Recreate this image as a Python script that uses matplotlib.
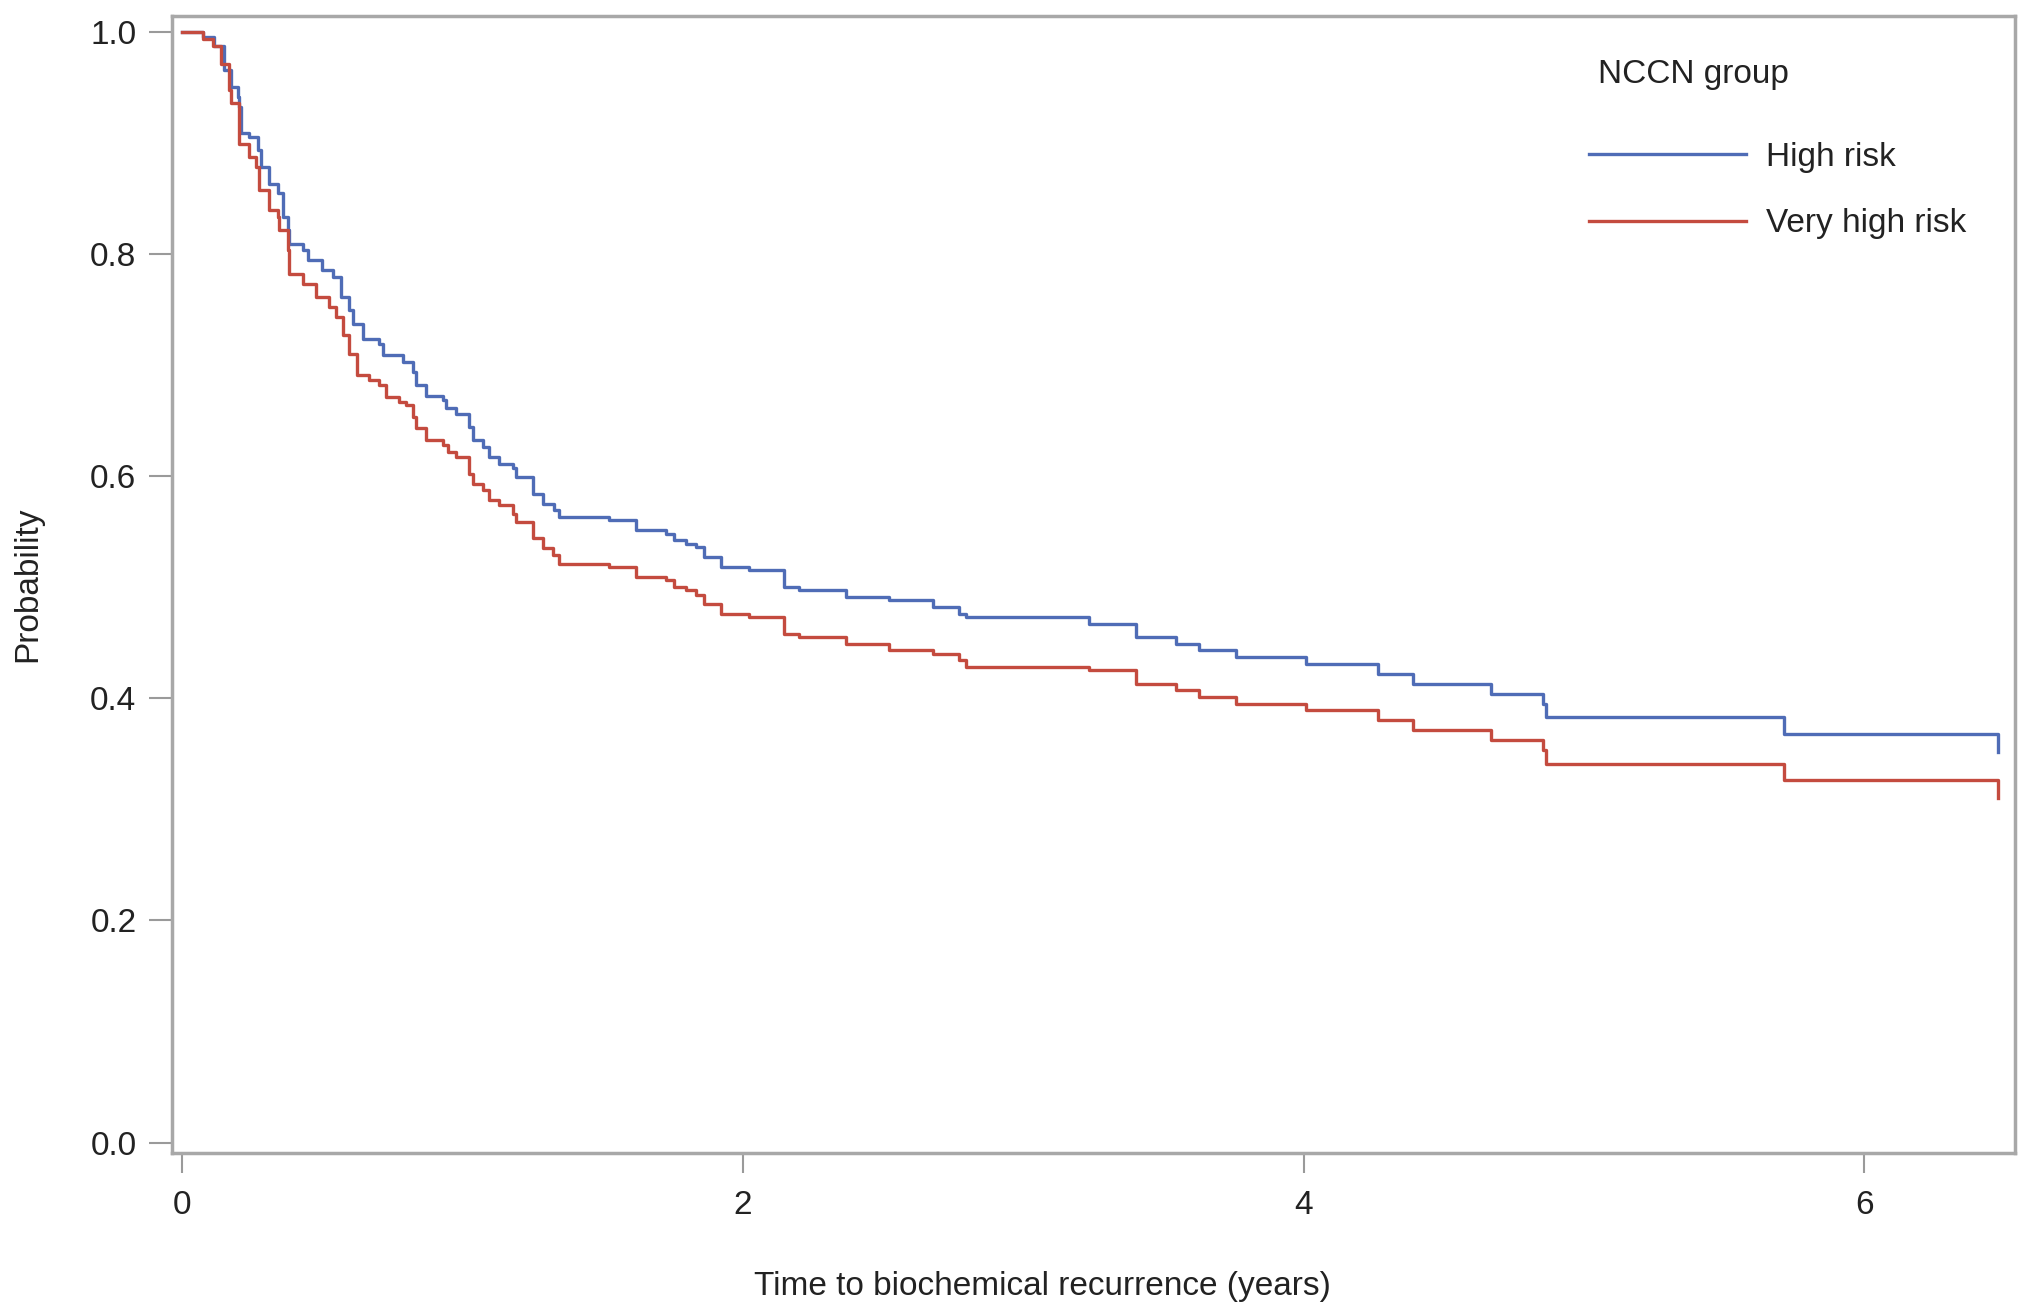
import matplotlib.pyplot as plt
import numpy as np

plt.rcParams['font.family'] = ['Liberation Sans', 'DejaVu Sans']

# Kaplan-Meier step points (time in years, survival after the step)
high_t = [0, 0.073, 0.114, 0.15, 0.174, 0.197, 0.203, 0.209, 0.239, 0.269, 0.281, 0.31, 0.34,
          0.358, 0.376, 0.382, 0.429, 0.447, 0.5, 0.536, 0.566, 0.596, 0.608, 0.643, 0.703,
          0.715, 0.786, 0.822, 0.834, 0.869, 0.929, 0.941, 0.976, 1.024, 1.036, 1.071, 1.095,
          1.131, 1.178, 1.19, 1.25, 1.286, 1.327, 1.345, 1.523, 1.619, 1.726, 1.755, 1.797,
          1.833, 1.862, 1.922, 2.023, 2.148, 2.201, 2.368, 2.522, 2.677, 2.772, 2.796, 3.236,
          3.402, 3.545, 3.628, 3.759, 4.009, 4.264, 4.389, 4.669, 4.853, 4.865, 5.713, 6.476]
high_p = [1.0, 0.995, 0.987, 0.965, 0.95, 0.941, 0.932, 0.909, 0.905, 0.893, 0.878, 0.863, 0.855,
          0.833, 0.821, 0.809, 0.803, 0.794, 0.785, 0.779, 0.761, 0.749, 0.737, 0.723, 0.719,
          0.709, 0.703, 0.694, 0.682, 0.672, 0.668, 0.661, 0.656, 0.644, 0.632, 0.626, 0.617,
          0.611, 0.607, 0.599, 0.584, 0.575, 0.569, 0.563, 0.56, 0.551, 0.548, 0.542, 0.539,
          0.536, 0.527, 0.518, 0.515, 0.5, 0.497, 0.491, 0.488, 0.482, 0.476, 0.473, 0.467,
          0.455, 0.449, 0.443, 0.437, 0.431, 0.422, 0.413, 0.404, 0.395, 0.383, 0.368, 0.352]

vhigh_t = [0, 0.073, 0.11, 0.138, 0.168, 0.174, 0.203, 0.239, 0.263, 0.275, 0.31, 0.34, 0.346,
           0.376, 0.382, 0.429, 0.477, 0.524, 0.548, 0.572, 0.596, 0.625, 0.667, 0.703, 0.727,
           0.774, 0.798, 0.822, 0.834, 0.869, 0.929, 0.947, 0.976, 1.024, 1.036, 1.071, 1.095,
           1.131, 1.178, 1.19, 1.25, 1.286, 1.321, 1.345, 1.523, 1.619, 1.726, 1.755, 1.797,
           1.833, 1.862, 1.922, 2.023, 2.148, 2.201, 2.368, 2.522, 2.677, 2.772, 2.796, 3.236,
           3.402, 3.545, 3.628, 3.759, 4.009, 4.264, 4.389, 4.669, 4.853, 4.865, 5.713, 6.476]
vhigh_p = [1.0, 0.993, 0.987, 0.971, 0.947, 0.936, 0.899, 0.887, 0.878, 0.857, 0.839, 0.833, 0.821,
           0.803, 0.782, 0.773, 0.761, 0.752, 0.743, 0.727, 0.71, 0.691, 0.686, 0.682, 0.671,
           0.667, 0.664, 0.653, 0.643, 0.632, 0.628, 0.622, 0.617, 0.602, 0.593, 0.587, 0.578,
           0.574, 0.566, 0.559, 0.544, 0.535, 0.529, 0.521, 0.518, 0.509, 0.506, 0.5, 0.497,
           0.493, 0.485, 0.476, 0.473, 0.458, 0.455, 0.449, 0.443, 0.44, 0.434, 0.428, 0.425,
           0.413, 0.407, 0.401, 0.395, 0.389, 0.38, 0.371, 0.362, 0.353, 0.341, 0.326, 0.31]

x_ticks = [0, 2, 4, 6]
y_ticks = [0.0, 0.2, 0.4, 0.6, 0.8, 1.0]

fig = plt.figure(figsize=(20.32, 13.16), dpi=100)
ax = fig.add_axes([0.0846, 0.1239, 0.907, 0.8639])

ax.step(high_t, high_p, where='post', color='#4f6cb6', lw=2.4, label='High risk')
ax.step(vhigh_t, vhigh_p, where='post', color='#c44b3f', lw=2.4, label='Very high risk')

ax.set_xlim(-0.037, 6.537)
ax.set_ylim(-0.0093, 1.014)
ax.set_xticks(x_ticks)
ax.set_yticks(y_ticks)
ax.set_yticklabels([f'{v:.1f}' for v in y_ticks])

for s in ax.spines.values():
    s.set_color('#a8a8a8')
    s.set_linewidth(2.5)
ax.tick_params(axis='both', colors='#9a9a9a', labelcolor='#222222', labelsize=24, width=1.5)
ax.tick_params(axis='y', length=16.5, pad=9)
ax.tick_params(axis='x', length=14.5, pad=12)

ax.set_xlabel('Time to biochemical recurrence (years)', fontsize=24, color='#222222')
ax.xaxis.set_label_coords(0.4726, -0.104)
ax.set_ylabel('Probability', fontsize=24, color='#222222', labelpad=34)

fig.text(1598 / 2032, 1 - 75 / 1316, 'NCCN group', fontsize=24, color='#222222',
         ha='left', va='center')
leg = ax.legend(loc='upper left', bbox_to_anchor=(1589 / 2032, 1 - 142 / 1316),
                bbox_transform=fig.transFigure, frameon=False, fontsize=24,
                handlelength=4.7, handletextpad=0.62, labelspacing=1.06, borderpad=0,
                borderaxespad=0)
for txt in leg.get_texts():
    txt.set_color('#222222')

fig.savefig('out.png', dpi=100)
